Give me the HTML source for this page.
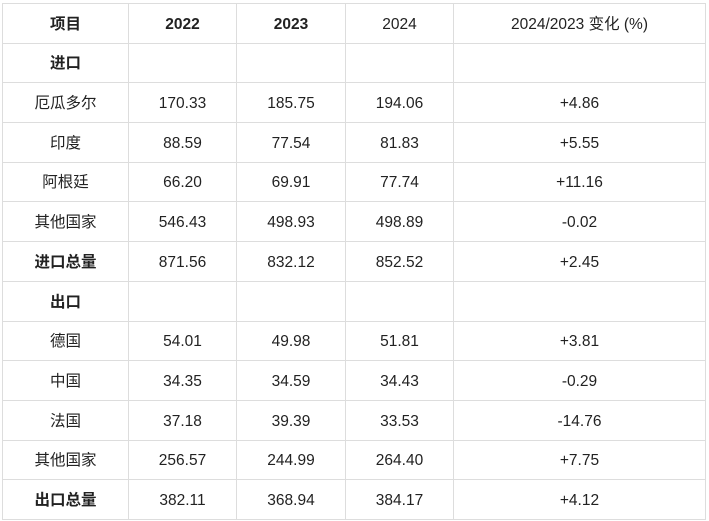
<!DOCTYPE html>
<html><head><meta charset="utf-8"><style>
html,body{margin:0;padding:0;background:#fff;width:709px;height:521px;overflow:hidden}
body{position:relative;font-family:"Liberation Sans","Noto Sans CJK SC",sans-serif;color:#222;font-size:15.5px}
.h{position:absolute;left:2px;width:704px;height:1px;background:#ddd}
.v{position:absolute;top:3px;height:517px;width:1px;background:#ddd}
.c{position:absolute;text-align:center;white-space:nowrap;line-height:20px}
b{font-weight:bold}
</style></head><body>
<div class="h" style="top:3px"></div>
<div class="h" style="top:43px"></div>
<div class="h" style="top:82px"></div>
<div class="h" style="top:122px"></div>
<div class="h" style="top:162px"></div>
<div class="h" style="top:201px"></div>
<div class="h" style="top:241px"></div>
<div class="h" style="top:281px"></div>
<div class="h" style="top:321px"></div>
<div class="h" style="top:360px"></div>
<div class="h" style="top:400px"></div>
<div class="h" style="top:440px"></div>
<div class="h" style="top:479px"></div>
<div class="h" style="top:519px"></div>
<div class="v" style="left:2px"></div>
<div class="v" style="left:128px"></div>
<div class="v" style="left:236px"></div>
<div class="v" style="left:345px"></div>
<div class="v" style="left:453px"></div>
<div class="v" style="left:705px"></div>
<div id="t"></div>
<script>
var rows=[
[3,43,["<b>项目</b>","<b>2022</b>","<b>2023</b>","2024","2024/2023 变化 (%)"]],
[43,82,["<b>进口</b>","","","",""]],
[82,122,["厄瓜多尔","170.33","185.75","194.06","+4.86"]],
[122,162,["印度","88.59","77.54","81.83","+5.55"]],
[162,201,["阿根廷","66.20","69.91","77.74","+11.16"]],
[201,241,["其他国家","546.43","498.93","498.89","-0.02"]],
[241,281,["<b>进口总量</b>","871.56","832.12","852.52","+2.45"]],
[281,321,["<b>出口</b>","","","",""]],
[321,360,["德国","54.01","49.98","51.81","+3.81"]],
[360,400,["中国","34.35","34.59","34.43","-0.29"]],
[400,440,["法国","37.18","39.39","33.53","-14.76"]],
[440,479,["其他国家","256.57","244.99","264.40","+7.75"]],
[479,519,["<b>出口总量</b>","382.11","368.94","384.17","+4.12"]]
];
var cols=[2,128,236,345,453,705];
var h="";
rows.forEach(function(r){
  var mid=(r[0]+r[1])/2+1.5;
  for(var i=0;i<5;i++){
    if(!r[2][i])continue;
    h+='<div class="c" style="left:'+(cols[i]+1)+'px;width:'+(cols[i+1]-cols[i]-1)+'px;top:'+(mid-10)+'px">'+r[2][i]+'</div>';
  }
});
document.getElementById("t").innerHTML=h;
</script>
</body></html>
